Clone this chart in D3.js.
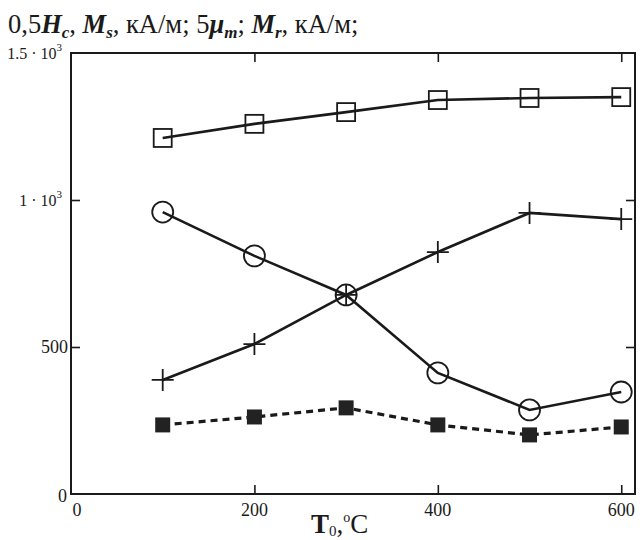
<!DOCTYPE html>
<html>
<head>
<meta charset="utf-8">
<script src="https://cdn.jsdelivr.net/npm/d3@7"></script>
<style>
  body { margin: 0; background: #fff; }
  svg { font-family: "Liberation Serif", "DejaVu Serif", serif; }
</style>
</head>
<body>
<div id="chart"></div>
<script>
var WIDTH = 640
var HEIGHT = 540

// temperatures, degC
var temps = [100, 200, 300, 400, 500, 600]
// Ms, kA/m (open squares)
var ms = [1211, 1259, 1299, 1340, 1347, 1350]
// 0,5Hc (open circles)
var hc = [959, 810, 677, 412, 286, 347]
// 5 mu_m (crosses)
var mu = [388, 510, 677, 823, 956, 935]
// Mr, kA/m (filled squares, dashed)
var mr = [235, 262, 293, 235, 201, 228]

var xTicks = [0, 200, 400, 600]
var yTicks = [0, 500, 1000, 1500]

var pL = 71, pR = 635, pT = 53, pB = 494

var svg = d3.select("#chart").append("svg")
  .attr("width", WIDTH)
  .attr("height", HEIGHT)

var x = d3.scaleLinear().domain([0, 615]).range([pL, pR])
var y = d3.scaleLinear().domain([0, 1500]).range([pB, pT])

var ink = "#1a1a1a"

// title
var title = svg.append("text").attr("x", 8).attr("y", 33)
  .attr("font-size", 26.5).attr("fill", ink)
function part(t, bold, sub) {
  var s = title.append("tspan").text(t)
  if (bold) s.attr("font-weight", "bold").attr("font-style", "italic")
  if (sub) s.attr("font-size", 17).attr("dy", 5)
  return s
}
part("0,5")
part("H", true)
part("c", true, true)
part(", ").attr("dy", -5)
part("M", true)
part("s", true, true)
part(", кА/м; 5").attr("dy", -5)
part("μ", true)
part("m", true, true)
part("; ").attr("dy", -5)
part("M", true)
part("r", true, true)
part(", кА/м;").attr("dy", -5)

// frame
svg.append("rect")
  .attr("x", pL).attr("y", pT)
  .attr("width", pR - pL).attr("height", pB - pT)
  .attr("fill", "none").attr("stroke", ink).attr("stroke-width", 2)

// inner ticks via axes
var tickX = xTicks.filter(function(d) { return d > 0 })
var tickY = yTicks.filter(function(d) { return d > 0 && d < 1500 })

svg.append("g").attr("transform", "translate(0," + pB + ")")
  .call(d3.axisTop(x).tickValues(tickX).tickSize(9).tickFormat(""))
svg.append("g").attr("transform", "translate(0," + pT + ")")
  .call(d3.axisBottom(x).tickValues(tickX).tickSize(9).tickFormat(""))
svg.append("g").attr("transform", "translate(" + pL + ",0)")
  .call(d3.axisRight(y).tickValues(tickY).tickSize(9).tickFormat(""))
svg.append("g").attr("transform", "translate(" + pR + ",0)")
  .call(d3.axisLeft(y).tickValues(tickY).tickSize(9).tickFormat(""))
svg.selectAll(".domain").remove()
svg.selectAll(".tick line").attr("stroke", ink).attr("stroke-width", 1.6)

// x tick labels
svg.selectAll(".xlab").data(xTicks).enter().append("text")
  .attr("class", "xlab")
  .attr("x", function(d) { return d == 0 ? x(d) + 6 : x(d) })
  .attr("y", 516)
  .attr("text-anchor", "middle")
  .attr("font-size", 18).attr("fill", ink)
  .text(function(d) { return d })

// y tick labels
var yl = svg.selectAll(".ylab").data(yTicks).enter().append("text")
  .attr("class", "ylab")
  .attr("x", function(d) { return d == 0 ? 67 : (d == 500 ? 68 : 62) })
  .attr("y", function(d) { return d == 0 ? y(d) + 8 : y(d) + 6 })
  .attr("text-anchor", "end")
  .attr("font-size", function(d) { return d >= 1000 ? 16 : 18 })
  .attr("fill", ink)
yl.each(function(d) {
  var t = d3.select(this)
  if (d < 1000) { t.text(d); return }
  t.append("tspan").text(d == 1000 ? "1 · 10" : "1.5 · 10")
  t.append("tspan").text("3").attr("font-size", 11).attr("dy", -8)
})

// x axis title
var xt = svg.append("text").attr("x", 311).attr("y", 533)
  .attr("font-size", 27).attr("fill", ink)
xt.append("tspan").text("T").attr("font-weight", "bold")
xt.append("tspan").text("0").attr("font-size", 15).attr("dy", 3)
xt.append("tspan").text(",").attr("dy", -3)
xt.append("tspan").text("o").attr("font-size", 14).attr("dy", -11)
xt.append("tspan").text("C").attr("dy", 11)

var line = d3.line()
  .x(function(d, i) { return x(temps[i]) })
  .y(function(d) { return y(d) })

function drawLine(vals, dashed) {
  svg.append("path").datum(vals)
    .attr("d", line)
    .attr("fill", "none")
    .attr("stroke", ink)
    .attr("stroke-width", dashed ? 3.2 : 2.6)
    .attr("stroke-dasharray", dashed ? "7,5" : null)
}
drawLine(ms)
drawLine(hc)
drawLine(mu)
drawLine(mr, true)

// open squares
svg.selectAll(".sq").data(ms).enter().append("rect")
  .attr("x", function(d, i) { return x(temps[i]) - 9 })
  .attr("y", function(d) { return y(d) - 9 })
  .attr("width", 18).attr("height", 18)
  .attr("fill", "none").attr("stroke", ink).attr("stroke-width", 1.8)

// open circles
svg.selectAll(".ci").data(hc).enter().append("circle")
  .attr("cx", function(d, i) { return x(temps[i]) })
  .attr("cy", function(d) { return y(d) })
  .attr("r", 10.5)
  .attr("fill", "none").attr("stroke", ink).attr("stroke-width", 1.8)

// crosses
svg.selectAll(".cr").data(mu).enter().append("path")
  .attr("d", function(d, i) {
    var cx = x(temps[i]), cy = y(d), s = 11
    return "M" + (cx - s) + "," + cy + "H" + (cx + s) + "M" + cx + "," + (cy - s) + "V" + (cy + s)
  })
  .attr("stroke", ink).attr("stroke-width", 1.8).attr("fill", "none")

// filled squares
svg.selectAll(".fs").data(mr).enter().append("rect")
  .attr("x", function(d, i) { return x(temps[i]) - 7.5 })
  .attr("y", function(d) { return y(d) - 7.5 })
  .attr("width", 15).attr("height", 15)
  .attr("fill", "#222")
</script>
</body>
</html>
